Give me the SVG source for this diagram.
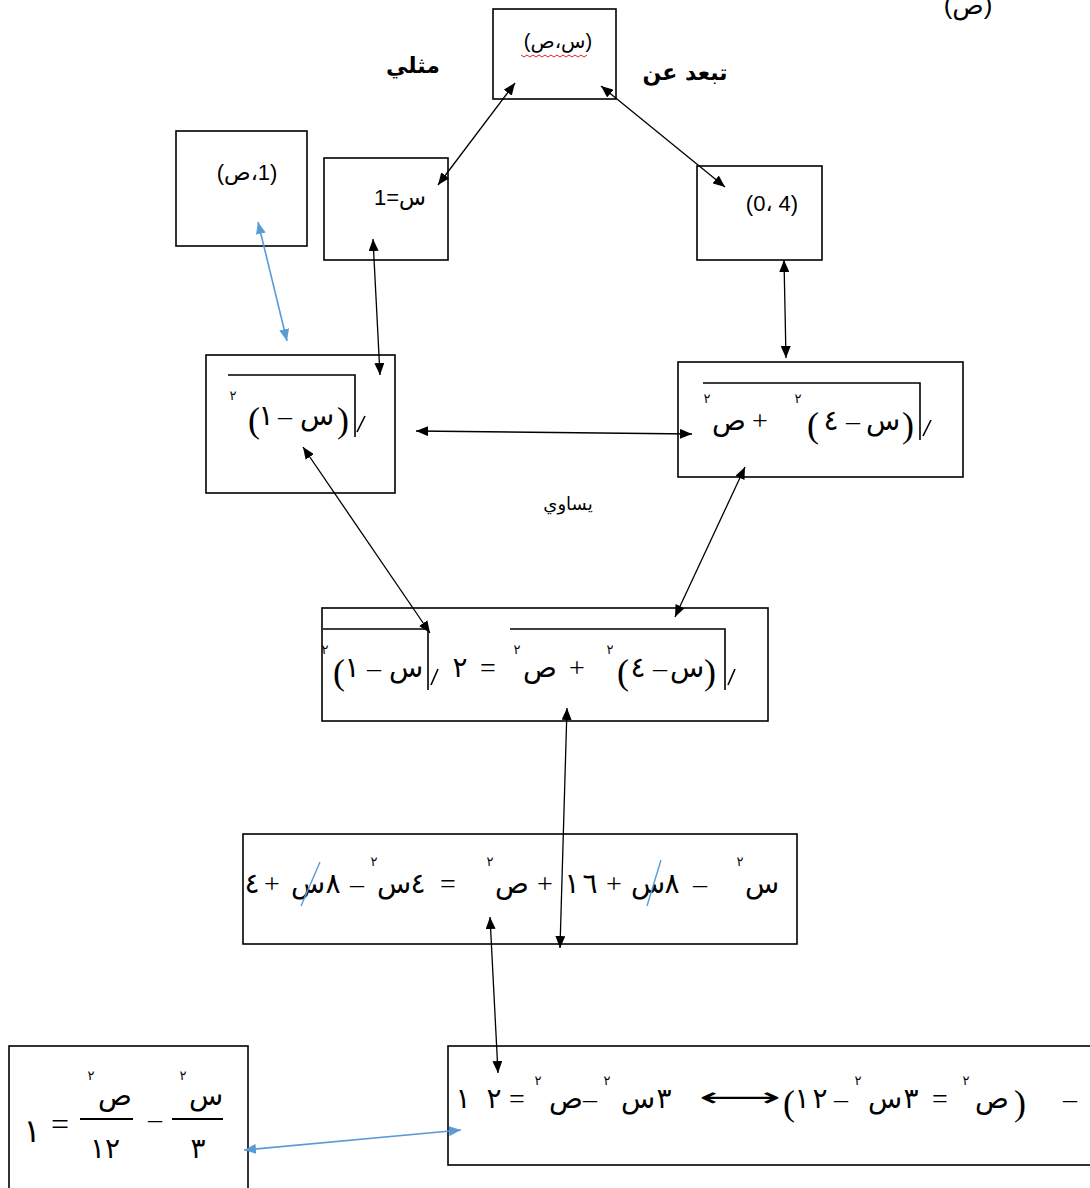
<svg xmlns="http://www.w3.org/2000/svg" width="1090" height="1188" viewBox="0 0 1090 1188">
<style>
.box{fill:none;stroke:#000;stroke-width:1.6}
.m{font-family:"Liberation Serif","DejaVu Sans",serif;font-size:28px;text-anchor:middle;fill:#000}
.p{font-family:"Liberation Serif","DejaVu Sans",serif;font-size:36px;text-anchor:middle;fill:#000}
.sp{font-family:"Liberation Serif","DejaVu Sans",serif;font-size:13px;text-anchor:middle;fill:#000}
.lbl{font-family:"Liberation Sans","DejaVu Sans",sans-serif;font-size:22px;text-anchor:middle;fill:#000;unicode-bidi:bidi-override;direction:ltr}
.ar{font-family:"DejaVu Sans","Liberation Sans",sans-serif;font-size:22px;text-anchor:middle;font-weight:bold;fill:#000}
.rad{fill:none;stroke:#000;stroke-width:1.6}
.conn{fill:none;stroke:#000;stroke-width:1.3;marker-start:url(#ah);marker-end:url(#ah)}
.bconn{fill:none;stroke:#5b9bd5;stroke-width:1.6;marker-start:url(#bh);marker-end:url(#bh)}
.strike{stroke:#5b9bd5;stroke-width:1.4}
</style>
<defs>
<marker id="ah" markerWidth="12" markerHeight="10" refX="12" refY="5" orient="auto-start-reverse" markerUnits="userSpaceOnUse"><path d="M0,0 L12,5 L0,10 z" fill="#000"/></marker>
<marker id="bh" markerWidth="12" markerHeight="10" refX="12" refY="5" orient="auto-start-reverse" markerUnits="userSpaceOnUse"><path d="M0,0 L12,5 L0,10 z" fill="#5b9bd5"/></marker>
</defs>
<rect width="1090" height="1188" fill="#fff"/>

<text class="lbl" x="968" y="14" style="font-size:26px">(ص)</text>

<g id="n-top">
<rect class="box" x="493" y="9" width="123" height="90"/>
<text class="lbl" x="558" y="48" style="font-size:20px">(ص،س)</text>
<path d="M521,55 l3,2 l3,-2 l3,2 l3,-2 l3,2 l3,-2 l3,2 l3,-2 l3,2 l3,-2 l3,2 l3,-2 l3,2 l3,-2 l3,2 l3,-2 l3,2 l3,-2 l3,2 l3,-2 l3,2 l3,-2" fill="none" stroke="#e0202a" stroke-width="1"/>
</g>
<g id="lbl-mithli"><text class="ar" x="413" y="73">مثلي</text></g>
<g id="lbl-tabud"><text class="ar" x="685" y="80">تبعد عن</text></g>

<g id="n-1s">
<rect class="box" x="176" y="131" width="131" height="115"/>
<text class="lbl" x="247" y="180">(ص،1)</text>
</g>
<g id="n-x1">
<rect class="box" x="324" y="158" width="124" height="102"/>
<text class="lbl" x="400" y="205">1=س</text>
</g>
<g id="n-40">
<rect class="box" x="697" y="166" width="125" height="94"/>
<text class="lbl" x="772" y="211">(0، 4)</text>
</g>

<g id="n-sqrt1">
<rect class="box" x="206" y="355" width="189" height="138"/>
<path class="rad" d="M228,375 H355 V437 M357,432 L365,416"/>
<text class="sp" x="233" y="400">٢</text>
<text class="p" x="254" y="432">(</text>
<text class="m" x="266" y="425">١</text>
<text class="m" x="285" y="425">–</text>
<text class="m" x="317" y="425">س</text>
<text class="p" x="343" y="432">)</text>
</g>

<g id="n-sqrt2">
<rect class="box" x="678" y="362" width="285" height="115"/>
<path class="rad" d="M703,383 H920 V440 M923,436 L931,420"/>
<text class="sp" x="707" y="403">٢</text>
<text class="m" x="729" y="430">ص</text>
<text class="m" x="760" y="430">+</text>
<text class="sp" x="798" y="403">٢</text>
<text class="p" x="813" y="437">(</text>
<text class="m" x="831" y="430">٤</text>
<text class="m" x="853" y="430">–</text>
<text class="m" x="883" y="430">س</text>
<text class="p" x="908" y="437">)</text>
</g>
<g id="lbl-yusawi"><text x="568" y="510" style="font-family:'DejaVu Sans',sans-serif;font-size:18px;text-anchor:middle">يساوي</text></g>

<g id="n-eq1">
<rect class="box" x="322" y="608" width="446" height="113"/>
<path class="rad" d="M323,629 H428 V690 M431,685 L438,669"/>
<path class="rad" d="M510,629 H725 V690 M728,685 L735,669"/>
<text class="sp" x="325" y="654">٢</text>
<text class="p" x="339" y="684">(</text>
<text class="m" x="352" y="677">١</text>
<text class="m" x="374" y="677">–</text>
<text class="m" x="406" y="677">س</text>
<text class="m" x="460" y="677">٢</text>
<text class="m" x="488" y="677">=</text>
<text class="sp" x="517" y="654">٢</text>
<text class="m" x="540" y="677">ص</text>
<text class="m" x="577" y="677">+</text>
<text class="sp" x="610" y="654">٢</text>
<text class="p" x="623" y="684">(</text>
<text class="m" x="638" y="677">٤</text>
<text class="m" x="660" y="677">–</text>
<text class="m" x="687" y="677">س</text>
<text class="p" x="710" y="684">)</text>
</g>

<g id="n-eq2">
<rect class="box" x="243" y="834" width="554" height="110"/>
<text class="m" x="252" y="893">٤</text>
<text class="m" x="272" y="893">+</text>
<text class="m" x="308" y="893">س</text>
<line class="strike" x1="320" y1="862" x2="301" y2="906"/>
<text class="m" x="333" y="893">٨</text>
<text class="m" x="357" y="893">–</text>
<text class="sp" x="374" y="866">٢</text>
<text class="m" x="394" y="893">س</text>
<text class="m" x="418" y="893">٤</text>
<text class="m" x="448" y="893">=</text>
<text class="sp" x="490" y="866">٢</text>
<text class="m" x="512" y="893">ص</text>
<text class="m" x="545" y="893">+</text>
<text class="m" x="572" y="893">١</text>
<text class="m" x="590" y="893">٦</text>
<text class="m" x="614" y="893">+</text>
<text class="m" x="648" y="893">س</text>
<line class="strike" x1="661" y1="860" x2="647" y2="906"/>
<text class="m" x="672" y="893">٨</text>
<text class="m" x="700" y="893">–</text>
<text class="sp" x="740" y="866">٢</text>
<text class="m" x="762" y="893">س</text>
</g>

<g id="n-frac">
<rect class="box" x="9" y="1046" width="239" height="150"/>
<text class="m" x="32" y="1142" style="font-size:32px">١</text>
<text class="m" x="60" y="1135" style="font-size:32px">=</text>
<line x1="80" y1="1119" x2="133" y2="1119" stroke="#000" stroke-width="2"/>
<text class="sp" x="91" y="1080">٢</text>
<text class="m" x="115" y="1105">ص</text>
<text class="m" x="105" y="1158">١٢</text>
<text class="m" x="155" y="1128">–</text>
<line x1="172" y1="1119" x2="223" y2="1119" stroke="#000" stroke-width="2"/>
<text class="sp" x="183" y="1080">٢</text>
<text class="m" x="206" y="1105">س</text>
<text class="m" x="198" y="1158">٣</text>
</g>

<g id="n-eq3">
<rect class="box" x="448" y="1046" width="700" height="119"/>
<text class="m" x="463" y="1108">١</text>
<text class="m" x="494" y="1108">٢</text>
<text class="m" x="517" y="1108">=</text>
<text class="sp" x="538" y="1085">٢</text>
<text class="m" x="566" y="1108">ص</text>
<text class="m" x="590" y="1108">–</text>
<text class="sp" x="607" y="1085">٢</text>
<text class="m" x="638" y="1108">س</text>
<text class="m" x="664" y="1108">٣</text>
<text x="740" y="1106" textLength="82" lengthAdjust="spacingAndGlyphs" style="font-family:'DejaVu Sans',sans-serif;font-size:26px;text-anchor:middle">⟷</text>
<text class="p" x="789" y="1115">(</text>
<text class="m" x="802" y="1108">١</text>
<text class="m" x="820" y="1108">٢</text>
<text class="m" x="841" y="1108">–</text>
<text class="sp" x="858" y="1085">٢</text>
<text class="m" x="885" y="1108">س</text>
<text class="m" x="911" y="1108">٣</text>
<text class="m" x="940" y="1108">=</text>
<text class="sp" x="966" y="1085">٢</text>
<text class="m" x="992" y="1108">ص</text>
<text class="p" x="1020" y="1115">)</text>
<text class="m" x="1070" y="1108">–</text>
</g>

<g id="connectors">
<line class="conn" x1="515" y1="83" x2="438" y2="185"/>
<line class="conn" x1="601" y1="86" x2="725" y2="187"/>
<line class="bconn" x1="258" y1="222" x2="287" y2="341"/>
<line class="conn" x1="373" y1="239" x2="380" y2="375"/>
<line class="conn" x1="784" y1="260" x2="786" y2="358"/>
<line class="conn" x1="416" y1="431" x2="692" y2="434"/>
<line class="conn" x1="303" y1="447" x2="430" y2="633"/>
<line class="conn" x1="745" y1="467" x2="675" y2="617"/>
<line class="conn" x1="567" y1="708" x2="560" y2="948"/>
<line class="conn" x1="490" y1="917" x2="498" y2="1073"/>
<line class="bconn" x1="244" y1="1150" x2="461" y2="1130"/>
</g>
</svg>
